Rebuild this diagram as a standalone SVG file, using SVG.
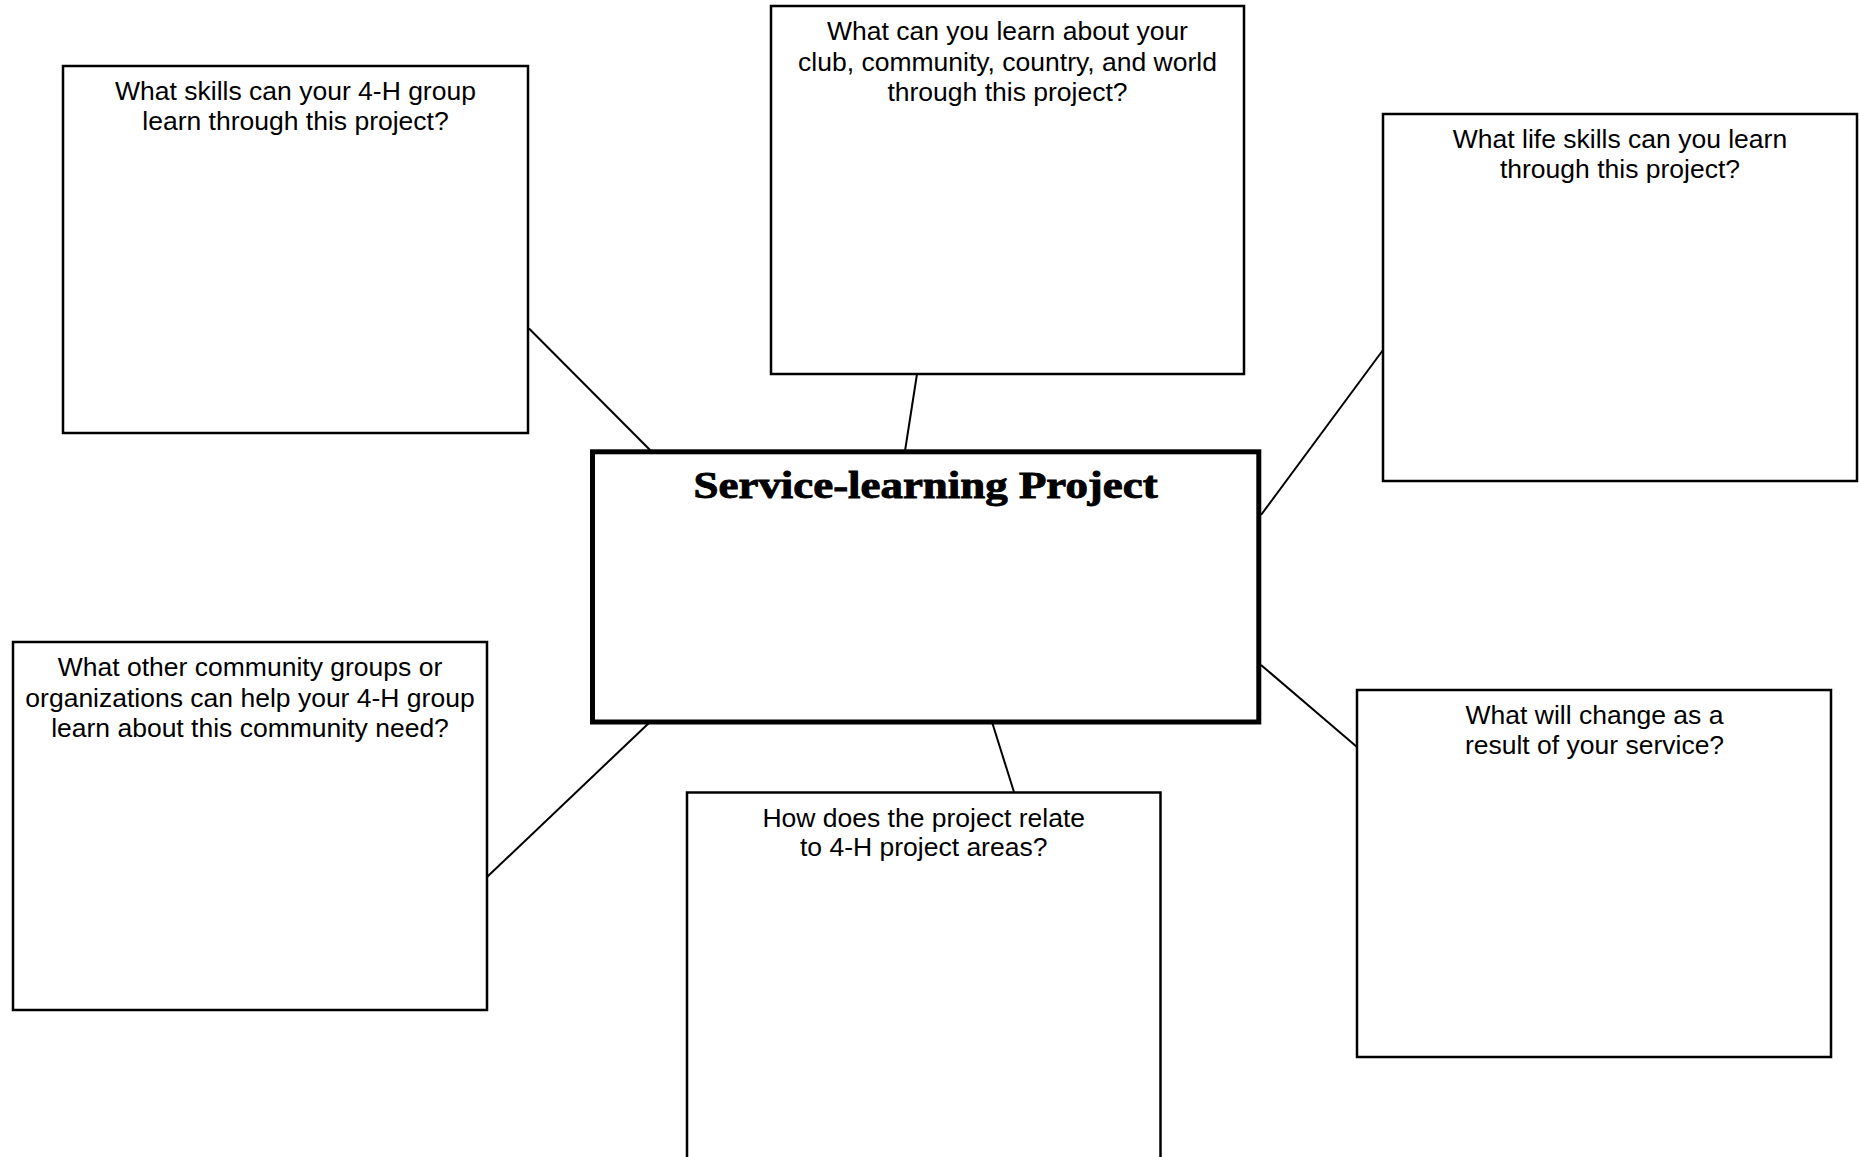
<svg xmlns="http://www.w3.org/2000/svg" width="1860" height="1157" viewBox="0 0 1860 1157">
<style>
.box{fill:#fff;stroke:#000;stroke-width:2.5}
.main{fill:#fff;stroke:#000;stroke-width:5}
.q{font-family:"Liberation Sans",Arial,sans-serif;font-size:26.5px;fill:#000;text-anchor:middle}
.title{font-family:"Liberation Serif","Times New Roman",serif;font-size:37px;font-weight:bold;fill:#000;stroke:#000;stroke-width:0.9;text-anchor:middle}
.conn line{stroke:#000;stroke-width:2}
</style>
<rect x="0" y="0" width="1860" height="1157" fill="#fff"/>
<g id="connectors" class="conn">
<line x1="529" y1="328.5" x2="651" y2="451"/>
<line x1="917" y1="374" x2="905" y2="451"/>
<line x1="1383" y1="350" x2="1261" y2="515"/>
<line x1="1261" y1="665" x2="1357" y2="747"/>
<line x1="992" y1="722" x2="1014" y2="792"/>
<line x1="650" y1="722" x2="487" y2="877"/>
</g>
<g id="node-skills">
<rect class="box" x="63" y="66" width="465" height="367"/>
<text class="q" x="295.5" y="99.5">What skills can your 4-H group</text>
<text class="q" x="295.5" y="130.3">learn through this project?</text>
</g>
<g id="node-world">
<rect class="box" x="771" y="6" width="473" height="368"/>
<text class="q" x="1007.5" y="40">What can you learn about your</text>
<text class="q" x="1007.5" y="70.8">club, community, country, and world</text>
<text class="q" x="1007.5" y="100.6">through this project?</text>
</g>
<g id="node-life-skills">
<rect class="box" x="1383" y="114" width="474" height="367"/>
<text class="q" x="1620" y="147.5">What life skills can you learn</text>
<text class="q" x="1620" y="178.3">through this project?</text>
</g>
<g id="node-center">
<rect class="main" x="592.5" y="451.8" width="666.3" height="270.2"/>
<text class="title" x="925.6" y="497.7" textLength="464" lengthAdjust="spacingAndGlyphs">Service-learning Project</text>
</g>
<g id="node-groups">
<rect class="box" x="13" y="642" width="474" height="368"/>
<text class="q" x="250" y="676">What other community groups or</text>
<text class="q" x="250" y="706.6">organizations can help your 4-H group</text>
<text class="q" x="250" y="736.5">learn about this community need?</text>
</g>
<g id="node-project-areas">
<rect class="box" x="687" y="792.5" width="473.5" height="420"/>
<text class="q" x="923.7" y="826.5">How does the project relate</text>
<text class="q" x="923.7" y="856.3">to 4-H project areas?</text>
</g>
<g id="node-change">
<rect class="box" x="1357" y="690" width="474" height="367"/>
<text class="q" x="1594.5" y="723.5">What will change as a</text>
<text class="q" x="1594.5" y="754.4">result of your service?</text>
</g>
</svg>
